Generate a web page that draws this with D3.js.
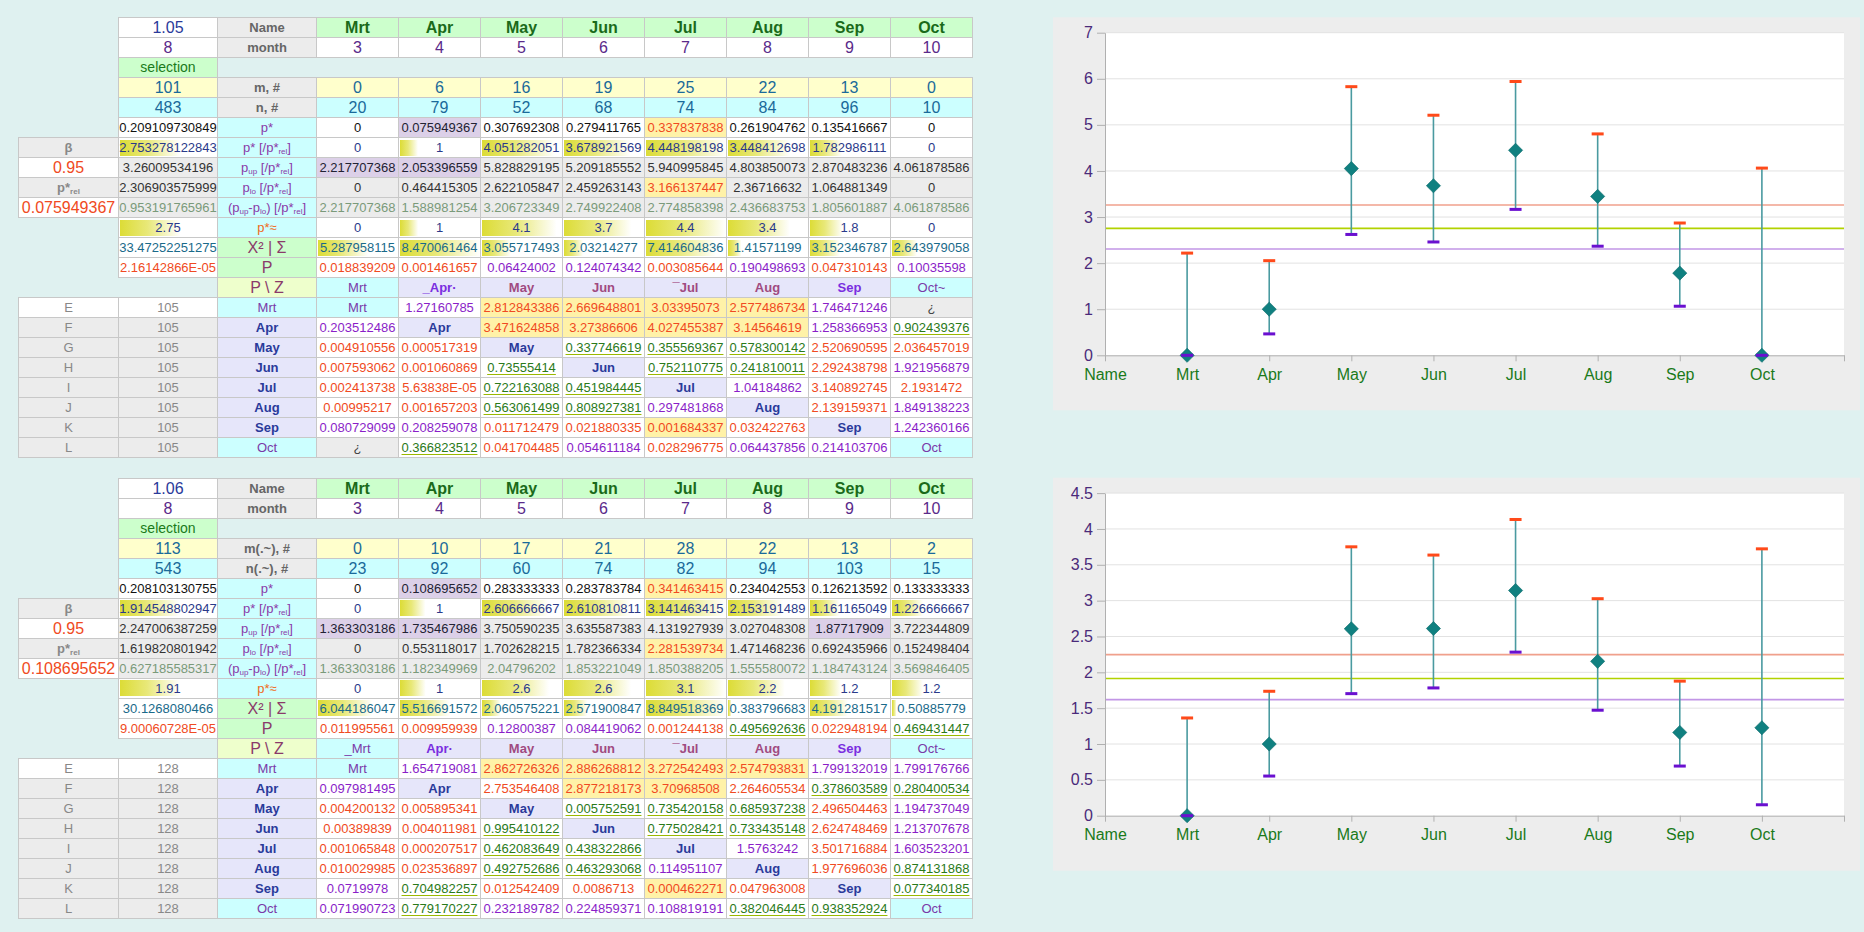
<!DOCTYPE html>
<html><head><meta charset="utf-8">
<script src="https://cdn.jsdelivr.net/npm/d3@7"></script>
<style>
body{margin:0;background:#dff1f0;width:1864px;height:932px;overflow:hidden;font-family:"Liberation Sans",Arial,sans-serif;}
#root{position:absolute;left:0;top:0;}
.cell{position:absolute;box-sizing:border-box;border:1px solid #c8c8c8;text-align:center;white-space:nowrap;overflow:hidden;line-height:19px;font-size:13px;}
.cell sub{font-size:8px;vertical-align:-2px;line-height:0;}
</style></head><body>
<div id="root"></div>
<svg id="charts" width="1864" height="932" style="position:absolute;left:0;top:0"></svg>
<script>
// ---------- shared labels ----------
const months = ["Mrt","Apr","May","Jun","Jul","Aug","Sep","Oct"];
const monthNo = [3,4,5,6,7,8,9,10];
const axisCats = ["Name","Mrt","Apr","May","Jun","Jul","Aug","Sep","Oct"];
const rowLetters = ["E","F","G","H","I","J","K","L"];

// ---------- table / chart 1 ----------
const t1_params = ["1.05", 8, 0.95, 0.075949367, 105];
const t1_totals = [101, 483, 0.209109730849, 2.753278122843, 3.26009534196, 2.306903575999, 0.953191765961, 2.75, 33.47252251275, 2.16142866e-5];
const t1_labels = ["m, #", "n, #"];
const t1_m = [0,6,16,19,25,22,13,0];
const t1_n = [20,79,52,68,74,84,96,10];
const t1_pStar = [0,0.075949367,0.307692308,0.279411765,0.337837838,0.261904762,0.135416667,0];
const t1_ratio = [0,1,4.051282051,3.678921569,4.448198198,3.448412698,1.782986111,0];
const t1_pup = [2.217707368,2.053396559,5.828829195,5.209185552,5.940995845,4.803850073,2.870483236,4.061878586];
const t1_plo = [0,0.464415305,2.622105847,2.459263143,3.166137447,2.36716632,1.064881349,0];
const t1_span = [2.217707368,1.588981254,3.206723349,2.749922408,2.774858398,2.436683753,1.805601887,4.061878586];
const t1_approx = [0,1,4.1,3.7,4.4,3.4,1.8,0];
const t1_chi = [5.287958115,8.470061464,3.055717493,2.03214277,7.414604836,1.41571199,3.152346787,2.643979058];
const t1_P = [0.018839209,0.001461657,0.06424002,0.124074342,0.003085644,0.190498693,0.047310143,0.10035598];
const t1_pz = ["Mrt","_Apr·","May","Jun","¯Jul","Aug","Sep","Oct~"];
const t1_matrix = [
 [null,1.27160785,2.812843386,2.669648801,3.03395073,2.577486734,1.746471246,"¿"],
 [0.203512486,null,3.471624858,3.27386606,4.027455387,3.14564619,1.258366953,0.902439376],
 [0.004910556,0.000517319,null,0.337746619,0.355569367,0.578300142,2.520690595,2.036457019],
 [0.007593062,0.001060869,0.73555414,null,0.752110775,0.241810011,2.292438798,1.921956879],
 [0.002413738,5.63838e-5,0.722163088,0.451984445,null,1.04184862,3.140892745,2.1931472],
 [0.00995217,0.001657203,0.563061499,0.808927381,0.297481868,null,2.139159371,1.849138223],
 [0.080729099,0.208259078,0.011712479,0.021880335,0.001684337,0.032422763,null,1.242360166],
 ["¿",0.366823512,0.041704485,0.054611184,0.028296775,0.064437856,0.214103706,null]
];
const t1_yTicks = [0,1,2,3,4,5,6,7];

// ---------- table / chart 2 ----------
const t2_params = ["1.06", 8, 0.95, 0.108695652, 128];
const t2_totals = [113, 543, 0.208103130755, 1.914548802947, 2.247006387259, 1.619820801942, 0.627185585317, 1.91, 30.1268080466, 9.00060728e-5];
const t2_labels = ["m(.~), #", "n(.~), #"];
const t2_m = [0,10,17,21,28,22,13,2];
const t2_n = [23,92,60,74,82,94,103,15];
const t2_pStar = [0,0.108695652,0.283333333,0.283783784,0.341463415,0.234042553,0.126213592,0.133333333];
const t2_ratio = [0,1,2.606666667,2.610810811,3.141463415,2.153191489,1.161165049,1.226666667];
const t2_pup = [1.363303186,1.735467986,3.750590235,3.635587383,4.131927939,3.027048308,1.87717909,3.722344809];
const t2_plo = [0,0.553118017,1.702628215,1.782366334,2.281539734,1.471468236,0.692435966,0.152498404];
const t2_span = [1.363303186,1.182349969,2.04796202,1.853221049,1.850388205,1.555580072,1.184743124,3.569846405];
const t2_approx = [0,1,2.6,2.6,3.1,2.2,1.2,1.2];
const t2_chi = [6.044186047,5.516691572,2.060575221,2.571900847,8.849518369,0.383796683,4.191281517,0.50885779];
const t2_P = [0.011995561,0.009959939,0.12800387,0.084419062,0.001244138,0.495692636,0.022948194,0.469431447];
const t2_pz = ["_Mrt","Apr·","May","Jun","¯Jul","Aug","Sep","Oct~"];
const t2_matrix = [
 [null,1.654719081,2.862726326,2.886268812,3.272542493,2.574793831,1.799132019,1.799176766],
 [0.097981495,null,2.753546408,2.877218173,3.70968508,2.264605534,0.378603589,0.280400534],
 [0.004200132,0.005895341,null,0.005752591,0.735420158,0.685937238,2.496504463,1.194737049],
 [0.00389839,0.004011981,0.995410122,null,0.775028421,0.733435148,2.624748469,1.213707678],
 [0.001065848,0.000207517,0.462083649,0.438322866,null,1.5763242,3.501716884,1.603523201],
 [0.010029985,0.023536897,0.492752686,0.463293068,0.114951107,null,1.977696036,0.874131868],
 [0.0719978,0.704982257,0.012542409,0.0086713,0.000462271,0.047963008,null,0.077340185],
 [0.071990723,0.779170227,0.232189782,0.224859371,0.108819191,0.382046445,0.938352924,null]
];
const t2_yTicks = [0,0.5,1,1.5,2,2.5,3,3.5,4,4.5];

// ---------- styling constants ----------
const C = {
  gray:"#ececec", green:"#ccffcc", yellow:"#ffffcc", cyan:"#ccffff", white:"#ffffff",
  lav:"#dcd0e8", lavLabel:"#e6e6fa", pz:"#eeffcc", hi:"#fff2a8",
  red:"#f04a22", purple:"#8a1ec8", grn:"#2a7a1a", navy:"#2a3a8a", teal:"#1a6a9a",
  labelGray:"#666", letterGray:"#888", maroon:"#8a3a6a", pPurple:"#8a3aa8"
};
const colX = [18,118,217,316,398,480,562,644,726,808,890,972];

function fmt(v){
  if (typeof v === "string") return v;
  if (v !== 0 && Math.abs(v) < 1e-4) {
    const [mant, ex] = v.toExponential().split("e");
    const e = parseInt(ex,10);
    return mant + "E" + (e<0?"-":"+") + String(Math.abs(e)).padStart(2,"0");
  }
  return String(v);
}

const root = d3.select("#root");
function cell(top, r, c0, c1, html, st){
  st = st || {};
  const left = colX[c0], right = colX[c1];
  const d = root.append("div").attr("class","cell")
    .style("left", left+"px").style("top", (top + r*20)+"px")
    .style("width", (right-left+1)+"px").style("height","21px")
    .html(html);
  d.style("background-color", st.bg || "transparent");
  if (st.noBorder) d.style("border","none");
  if (st.color) d.style("color", st.color);
  if (st.size) d.style("font-size", st.size+"px");
  if (st.bold) d.style("font-weight","bold");
  if (st.ul) d.style("text-decoration","underline").style("text-decoration-color","#9ab800").style("text-underline-offset","2px");
  if (st.bar != null && st.bar > 0) {
    d.style("background-image","linear-gradient(to right, #dcdc36 0%, #e8e878 45%, #ffffff 100%)")
     .style("background-repeat","no-repeat")
     .style("background-size", st.bar+"px 16px")
     .style("background-position","1px center");
  }
  return d;
}

function buildTable(T, top){
  const beta = T.totals[3];
  const maxP = d3.max(T.pStar);
  cell(top,0,1,2,T.params[0],{bg:C.white,color:"#2a3a9a",size:16});
  cell(top,0,2,3,"Name",{bg:C.gray,color:C.labelGray,bold:true});
  months.forEach((m,i)=>cell(top,0,3+i,4+i,m,{bg:C.green,color:"#1a6a1a",bold:true,size:16}));
  cell(top,1,1,2,String(T.params[1]),{bg:C.white,color:"#5a2a8a",size:16});
  cell(top,1,2,3,"month",{bg:C.gray,color:C.labelGray,bold:true});
  monthNo.forEach((m,i)=>cell(top,1,3+i,4+i,String(m),{bg:C.white,color:"#5a2a8a",size:16}));
  cell(top,2,1,2,"selection",{bg:C.green,color:"#1a7a1a",size:14});
  cell(top,3,1,2,String(T.totals[0]),{bg:C.yellow,color:C.teal,size:16});
  cell(top,3,2,3,T.labels[0],{bg:C.gray,color:C.labelGray,bold:true});
  T.m.forEach((v,i)=>cell(top,3,3+i,4+i,String(v),{bg:C.yellow,color:C.teal,size:16}));
  cell(top,4,1,2,String(T.totals[1]),{bg:C.cyan,color:C.teal,size:16});
  cell(top,4,2,3,T.labels[1],{bg:C.gray,color:C.labelGray,bold:true});
  T.n.forEach((v,i)=>cell(top,4,3+i,4+i,String(v),{bg:C.cyan,color:C.teal,size:16}));
  cell(top,5,1,2,fmt(T.totals[2]),{bg:C.white,color:"#111"});
  cell(top,5,2,3,"p*",{bg:C.cyan,color:C.pPurple});
  T.pStar.forEach((v,i)=>{
    let st={bg:C.white,color:"#111"};
    if (v===T.params[3]) st={bg:C.lav,color:"#223"};
    else if (v===maxP) st={bg:C.hi,color:C.red};
    cell(top,5,3+i,4+i,fmt(v),st);
  });
  const wCell = 82-2, wB = 99-2;
  const xr = d3.scaleLinear().domain([0,d3.max(T.ratio.concat([beta]))]).range([0,1]);
  cell(top,6,0,1,"β",{bg:C.gray,color:C.letterGray,bold:true});
  cell(top,6,1,2,fmt(beta),{bg:C.white,color:C.navy,bar:xr(beta)*wB});
  cell(top,6,2,3,"p* [/p*<sub>rel</sub>]",{bg:C.cyan,color:C.pPurple});
  T.ratio.forEach((v,i)=>cell(top,6,3+i,4+i,fmt(v),{bg:C.white,color:C.navy,bar:xr(v)*wCell}));
  cell(top,7,0,1,String(T.params[2]),{bg:C.white,color:C.red,size:16});
  cell(top,7,1,2,fmt(T.totals[4]),{bg:C.gray,color:"#333"});
  cell(top,7,2,3,"p<sub>up</sub> [/p*<sub>rel</sub>]",{bg:C.cyan,color:C.pPurple});
  T.pup.forEach((v,i)=>cell(top,7,3+i,4+i,fmt(v),v<beta?{bg:C.lav,color:"#223"}:{bg:C.gray,color:"#333"}));
  cell(top,8,0,1,"p*<sub>rel</sub>",{bg:C.gray,color:C.letterGray,bold:true});
  cell(top,8,1,2,fmt(T.totals[5]),{bg:C.gray,color:"#333"});
  cell(top,8,2,3,"p<sub>lo</sub> [/p*<sub>rel</sub>]",{bg:C.cyan,color:C.pPurple});
  T.plo.forEach((v,i)=>cell(top,8,3+i,4+i,fmt(v),v>beta?{bg:C.hi,color:C.red}:{bg:C.gray,color:"#333"}));
  cell(top,9,0,1,fmt(T.params[3]),{bg:C.white,color:C.red,size:16});
  cell(top,9,1,2,fmt(T.totals[6]),{bg:C.gray,color:"#7a9a7a"});
  cell(top,9,2,3,"(p<sub>up</sub>-p<sub>lo</sub>) [/p*<sub>rel</sub>]",{bg:C.cyan,color:C.pPurple});
  T.span.forEach((v,i)=>cell(top,9,3+i,4+i,fmt(v),{bg:C.gray,color:"#7a9a7a"}));
  const xa = d3.scaleLinear().domain([0,d3.max(T.approx.concat([T.totals[7]]))]).range([0,1]);
  cell(top,10,1,2,fmt(T.totals[7]),{bg:C.white,color:C.navy,bar:xa(T.totals[7])*wB});
  cell(top,10,2,3,"p*≈",{bg:C.cyan,color:"#f06a1a"});
  T.approx.forEach((v,i)=>cell(top,10,3+i,4+i,fmt(v),{bg:C.white,color:C.navy,bar:xa(v)*wCell}));
  const xc = d3.scaleLinear().domain([0,d3.max(T.chi)]).range([0,wCell]);
  cell(top,11,1,2,fmt(T.totals[8]),{bg:C.white,color:"#1a6a8a"});
  cell(top,11,2,3,"X² | Σ",{bg:C.green,color:C.maroon,size:16});
  T.chi.forEach((v,i)=>cell(top,11,3+i,4+i,fmt(v),{bg:C.white,color:"#1a6a8a",bar:xc(v)}));
  const pStyle = v => v<0.05?{bg:C.white,color:C.red}:(v<=0.3173?{bg:C.white,color:C.purple}:{bg:C.white,color:C.grn,ul:true});
  cell(top,12,1,2,fmt(T.totals[9]),{bg:C.white,color:C.red});
  cell(top,12,2,3,"P",{bg:C.green,color:C.maroon,size:16});
  T.P.forEach((v,i)=>cell(top,12,3+i,4+i,fmt(v),pStyle(v)));
  cell(top,13,2,3,"P \\ Z",{bg:C.pz,color:C.maroon,size:16});
  T.pz.forEach((lab,i)=>{
    let st;
    if (i===0 || i===7) st={bg:C.cyan,color:"#7a3aa8"};
    else if (T.ratio[i]>beta) st={bg:C.lavLabel,color:"#a04a80",bold:true};
    else st={bg:C.lavLabel,color:"#7a2ee0",bold:true};
    cell(top,13,3+i,4+i,lab,st);
  });
  const zStyle = v => v>1.96?{bg:C.white,color:C.red}:(v>=1?{bg:C.white,color:C.purple}:{bg:C.white,color:C.grn,ul:true});
  const labStyle = i => (i===0||i===7)?{bg:C.cyan,color:"#7a3aa8"}:{bg:C.lavLabel,color:"#2a3a9a",bold:true};
  rowLetters.forEach((L,r)=>{
    const rr = 14+r;
    cell(top,rr,0,1,L,{bg:r===0?C.white:C.gray,color:C.letterGray});
    cell(top,rr,1,2,String(T.params[4]),{bg:r===0?C.white:C.gray,color:C.letterGray});
    cell(top,rr,2,3,months[r],labStyle(r));
    T.matrix[r].forEach((v,c)=>{
      if (v===null) { cell(top,rr,3+c,4+c,months[c],labStyle(c)); return; }
      if (typeof v === "string") { cell(top,rr,3+c,4+c,v,{bg:C.gray,color:"#444"}); return; }
      const sep = T.ratio[r] < T.ratio[c] && T.pup[r] < T.plo[c];
      let st = sep ? {bg:C.hi,color:C.red} : (c>r ? zStyle(v) : pStyle(v));
      cell(top,rr,3+c,4+c,fmt(v),st);
    });
  });
}

function buildChart(top, T, yTicks){
  const svg = d3.select("#charts");
  const g = svg.append("g");
  const yMax = yTicks[yTicks.length-1];
  const x = d3.scaleLinear().domain([0,9]).range([1105,1844]);
  const y = d3.scaleLinear().domain([0,yMax]).range([top+338, top+15.4]);
  g.append("rect").attr("x",1053).attr("y",top).attr("width",807).attr("height",393).attr("fill","#ededed");
  g.append("rect").attr("x",x(0)).attr("y",y(yMax)).attr("width",x(9)-x(0)).attr("height",y(0)-y(yMax)).attr("fill","#ffffff");
  g.selectAll(".grid").data(yTicks.filter(t=>t>0)).enter().append("line")
    .attr("x1",x(0)).attr("x2",x(9)).attr("y1",d=>y(d)).attr("y2",d=>y(d))
    .attr("stroke","#e2e2e2").attr("stroke-width",1);
  const refs = [[T.totals[4],"#f0a08c"],[T.totals[3],"#b2d200"],[T.totals[5],"#c296e6"]];
  g.selectAll(".ref").data(refs).enter().append("line")
    .attr("x1",x(0)).attr("x2",x(9)).attr("y1",d=>y(d[0])).attr("y2",d=>y(d[0]))
    .attr("stroke",d=>d[1]).attr("stroke-width",1.6);
  const ya = g.append("g").attr("transform",`translate(${x(0)},0)`)
    .call(d3.axisLeft(y).tickValues(yTicks).tickFormat(d=>String(d)).tickSize(8).tickSizeOuter(0).tickPadding(4));
  ya.selectAll("text").attr("fill","#4a2a7a").style("font-size","16px").style("font-family","'Liberation Sans',Arial,sans-serif");
  ya.selectAll("line").attr("stroke","#b0b0b0");
  ya.select(".domain").attr("stroke","#b0b0b0");
  const xa = g.append("g").attr("transform",`translate(0,${y(0)})`)
    .call(d3.axisBottom(x).tickValues(d3.range(0,10)).tickFormat(i=>axisCats[i]||"").tickSize(6).tickSizeOuter(0).tickPadding(7));
  xa.selectAll("text").attr("fill","#1a7a1a").style("font-size","16px").style("font-family","'Liberation Sans',Arial,sans-serif");
  xa.selectAll("line").attr("stroke","#b0b0b0");
  xa.select(".domain").attr("stroke","#b0b0b0");
  const pts = T.ratio.map((v,i)=>({i:i+1,v,up:T.pup[i],lo:T.plo[i]}));
  g.selectAll(".eb").data(pts).enter().append("line")
    .attr("x1",d=>x(d.i)).attr("x2",d=>x(d.i)).attr("y1",d=>y(d.up)).attr("y2",d=>y(d.lo))
    .attr("stroke","#4a9aa0").attr("stroke-width",1.6);
  g.selectAll(".dm").data(pts).enter().append("path")
    .attr("d",d3.symbol().type(d3.symbolSquare).size(100))
    .attr("transform",d=>`translate(${x(d.i)},${y(d.v)}) rotate(45)`)
    .attr("fill","#108080").attr("stroke","#0a6a6a").attr("stroke-width",0.6);
  g.selectAll(".capU").data(pts).enter().append("rect")
    .attr("x",d=>x(d.i)-6).attr("y",d=>y(d.up)-1.5).attr("width",12).attr("height",3).attr("fill","#ff4a1a");
  g.selectAll(".capL").data(pts).enter().append("rect")
    .attr("x",d=>x(d.i)-6).attr("y",d=>y(d.lo)-1.5).attr("width",12).attr("height",3).attr("fill","#6a10d0");
}

const T1 = {params:t1_params,totals:t1_totals,labels:t1_labels,m:t1_m,n:t1_n,pStar:t1_pStar,ratio:t1_ratio,pup:t1_pup,plo:t1_plo,span:t1_span,approx:t1_approx,chi:t1_chi,P:t1_P,pz:t1_pz,matrix:t1_matrix};
const T2 = {params:t2_params,totals:t2_totals,labels:t2_labels,m:t2_m,n:t2_n,pStar:t2_pStar,ratio:t2_ratio,pup:t2_pup,plo:t2_plo,span:t2_span,approx:t2_approx,chi:t2_chi,P:t2_P,pz:t2_pz,matrix:t2_matrix};

buildTable(T1, 17.3);
buildTable(T2, 477.7);
buildChart(17.3, T1, t1_yTicks);
buildChart(477.7, T2, t2_yTicks);
</script>
</body></html>
